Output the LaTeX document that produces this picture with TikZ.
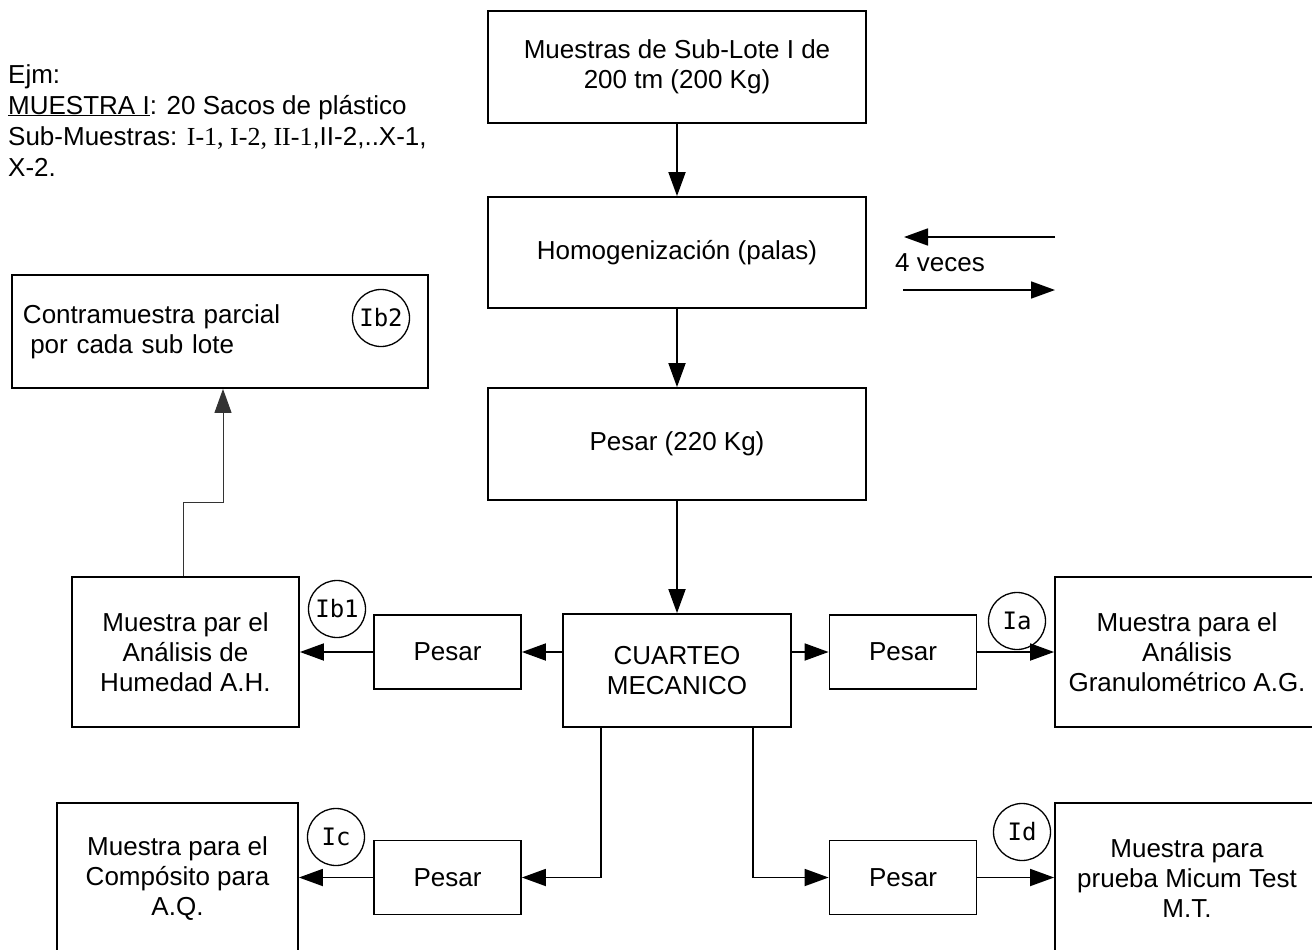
\documentclass[tikz,border=0pt]{standalone}
\usepackage{fontspec}
\setmainfont{Liberation Sans}
\newfontfamily\tagfont{DejaVu Sans Mono}
\newfontfamily\romfont{Liberation Serif}
\usetikzlibrary{arrows.meta}
\begin{document}
\begin{tikzpicture}[x=1pt,y=-1pt,line join=miter,>={Triangle[length=24pt,width=17pt]}]
	\tikzset{every node/.style={font=\fontsize{26}{30}\selectfont},
		box/.style={draw,line width=1.8pt,align=center,inner sep=0pt},
		tag/.style={draw,circle,line width=1.3pt,minimum size=57pt,inner sep=0pt,font=\tagfont\fontsize{24}{26}\selectfont},
		link/.style={->,line width=1.8pt}}
	\useasboundingbox (0,0) rectangle (1312,950);
	% nota
	\node[anchor=north west,align=left,inner sep=0pt,font=\fontsize{26}{31}\selectfont] (nota) at (8,64) {Ejm:\\
		\underline{MUESTRA I}: 20 Sacos de plástico\\
		Sub-Muestras: {\romfont I-1, I-2, II-1},II-2,..X-1,\\
		X-2.};
	% columna central
	\node[box,minimum width=378pt,minimum height=112pt] (sublote) at (677,67) {Muestras de Sub-Lote I de\\200 tm (200 Kg)};
	\node[box,minimum width=378pt,minimum height=111pt] (homog) at (677,252.5) {Homogenización (palas)};
	\node[box,minimum width=378pt,minimum height=112pt] (pesar) at (677,444) {Pesar (220 Kg)};
	\node[box,minimum width=228pt,minimum height=113pt] (cuarteo) at (677,670.5) {CUARTEO\\MECANICO};
	% pesadas
	\foreach \nm/\x/\y in {pesarL/447.5/652,pesarR/903/652,pesarBL/447.5/877.5,pesarBR/903/877.5}
		\node[box,minimum width=147pt,minimum height=74pt] (\nm) at (\x,\y) {Pesar};
	% muestras finales
	\node[box,minimum width=227pt,minimum height=150pt] (humedad) at (185.5,652) {Muestra par el\\Análisis de\\Humedad A.H.};
	\node[box,minimum width=264pt,minimum height=150pt] (granulo) at (1187,652) {Muestra para el\\Análisis\\Granulométrico A.G.};
	\node[box,minimum width=241pt,minimum height=152pt] (composito) at (177.5,879) {Muestra para el\\Compósito para\\A.Q.};
	\node[box,minimum width=264pt,minimum height=152pt] (micum) at (1187,879) {Muestra para\\prueba Micum Test\\M.T.};
	\node[box,minimum width=416pt,minimum height=113pt,align=left,text width=394pt] (contra) at (220,331.5) {Contramuestra parcial\\\hspace{0.28em}por cada sub lote};
	% etiquetas
	\foreach \nm/\x/\y in {Ib2/381/318,Ib1/337/609,Ia/1017/621,Ic/336/837,Id/1022/832}
		\node[tag] (\nm) at (\x,\y) {\nm};
	% flechas
	\draw[link] (sublote) -- (homog);
	\draw[link] (homog) -- (pesar);
	\draw[link] (pesar) -- (cuarteo);
	\draw[link] (cuarteo.west |- pesarL) -- (pesarL.east);
	\draw[link] (pesarL.west) -- (humedad.east |- pesarL);
	\draw[link] (cuarteo.east |- pesarR) -- (pesarR.west);
	\draw[link] (pesarR.east) -- (granulo.west |- pesarR);
	\draw[link] ([xshift=-76pt]cuarteo.south) |- (pesarBL.east);
	\draw[link] (pesarBL.west) -- (composito.east |- pesarBL);
	\draw[link] ([xshift=76pt]cuarteo.south) |- (pesarBR.west);
	\draw[link] (pesarBR.east) -- (micum.west |- pesarBR);
	\coordinate (codo) at (223,502);
	\draw[->,line width=1pt,black!80] ([xshift=-2.5pt]humedad.north) |- (codo) -- (codo |- contra.south);
	% 4 veces
	\coordinate (va) at (1055,237);
	\coordinate (vb) at (904,237);
	\coordinate (vc) at (903,290);
	\coordinate (vd) at (1055,290);
	\draw[link] (va) -- (vb);
	\draw[link] (vc) -- (vd);
	\node[anchor=west,inner sep=0pt] (veces) at (895,263) {4 veces};
\end{tikzpicture}
\end{document}
